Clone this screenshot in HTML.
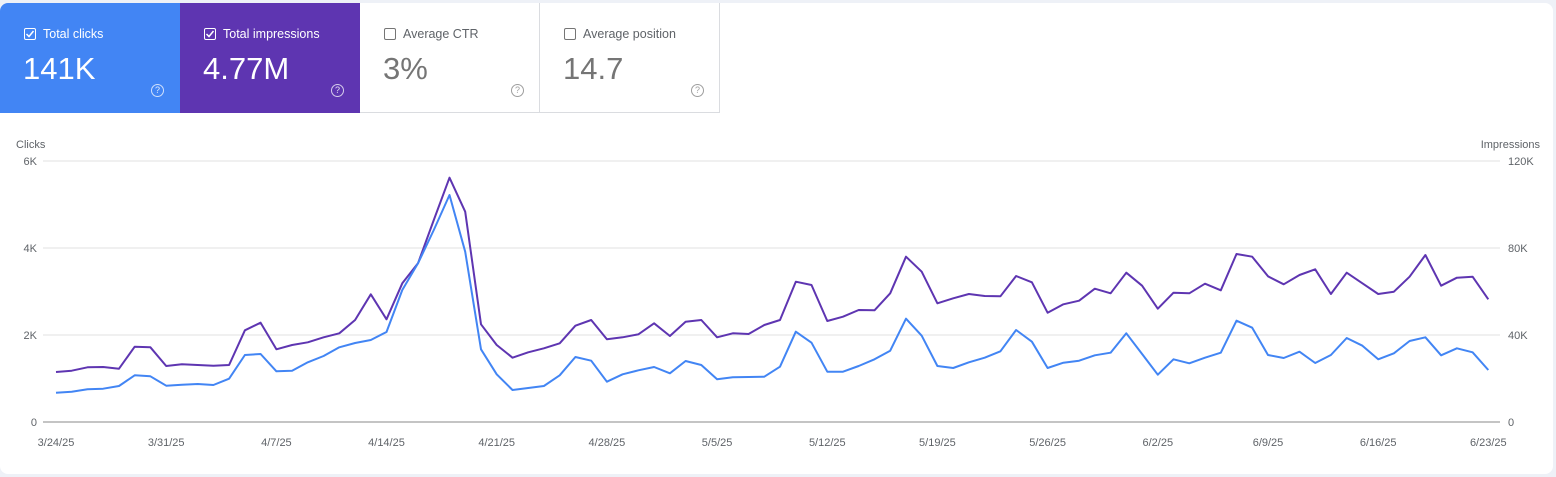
<!DOCTYPE html>
<html><head><meta charset="utf-8"><style>
body{margin:0;width:1556px;height:477px;background:#eef1f7;font-family:"Liberation Sans",sans-serif;overflow:hidden;position:relative}
.card{position:absolute;left:0;top:3px;width:1553px;height:471px;background:#fff;border-radius:8px;overflow:hidden}
.m{position:absolute;top:0;width:180px;height:110px;box-sizing:border-box}
.cb{position:absolute;left:24px;top:25px;width:10px;height:10px;border:1.5px solid #fff;border-radius:2px}
.lab{position:absolute;left:43px;top:24px;font-size:12.5px;color:#fff}
.big{position:absolute;left:23px;top:48px;font-size:31px;color:#fff}
.q{position:absolute;left:151px;top:81px;width:11px;height:11px;border:1.3px solid rgba(255,255,255,.75);border-radius:50%;font-size:9px;line-height:11px;text-align:center;color:rgba(255,255,255,.85)}
.w .cb{border-color:#757575}.w .lab{color:#5f6368}.w .big{color:#757575}.w .q{border-color:#9e9e9e;color:#9e9e9e}
svg text{font-family:"Liberation Sans",sans-serif;font-size:11px;fill:#5f6368}
</style></head><body>
<div class="card">
<div class="m" style="left:0;background:#4285f4"><div class="cb"><svg width="10" height="10" style="position:absolute;left:0;top:0"><path d="M1.5 5 L4 7.5 L8.5 2" stroke="#fff" stroke-width="1.5" fill="none"/></svg></div><div class="lab">Total clicks</div><div class="big">141K</div><div class="q">?</div></div>
<div class="m" style="left:180px;background:#5e35b1"><div class="cb"><svg width="10" height="10" style="position:absolute;left:0;top:0"><path d="M1.5 5 L4 7.5 L8.5 2" stroke="#fff" stroke-width="1.5" fill="none"/></svg></div><div class="lab">Total impressions</div><div class="big">4.77M</div><div class="q">?</div></div>
<div class="m w" style="left:360px;border-right:1px solid #dadce0;border-bottom:1px solid #dadce0"><div class="cb"></div><div class="lab">Average CTR</div><div class="big">3%</div><div class="q">?</div></div>
<div class="m w" style="left:540px;border-right:1px solid #dadce0;border-bottom:1px solid #dadce0"><div class="cb"></div><div class="lab">Average position</div><div class="big">14.7</div><div class="q">?</div></div>
</div>
<svg id="c" width="1556" height="477" style="position:absolute;left:0;top:0">
<text x="16" y="148">Clicks</text>
<text x="1540" y="148" text-anchor="end">Impressions</text>
<g stroke="#ececec" stroke-width="1.5"><line x1="43" y1="161" x2="1500" y2="161"/><line x1="43" y1="248" x2="1500" y2="248"/><line x1="43" y1="335" x2="1500" y2="335"/></g>
<line x1="43" y1="422" x2="1500" y2="422" stroke="#b0b0b0" stroke-width="1.5"/>
<g text-anchor="end"><text x="37" y="165">6K</text><text x="37" y="252">4K</text><text x="37" y="339">2K</text><text x="37" y="426">0</text></g>
<text x="1508" y="165">120K</text><text x="1508" y="252">80K</text><text x="1508" y="339">40K</text><text x="1508" y="426">0</text>
<g id="xl" text-anchor="middle"></g>
<polyline id="pp" fill="none" stroke="#5e35b1" stroke-width="2" stroke-linejoin="round"/>
<polyline id="bp" fill="none" stroke="#4285f4" stroke-width="2" stroke-linejoin="round"/>
</svg>
<script>
var B=[728,725,718,716,708,676,679,707,704,702,705,686,615,612,664,662,637,618,592,579,570,546,420,340,240,135,305,598,673,720,714,708,676,621,632,695,673,661,651,670,633,645,688,682,681,680,650,545,578,665,665,648,628,602,506,557,648,654,637,623,604,540,575,654,638,632,616,608,550,612,674,628,640,623,608,512,533,615,624,605,639,615,564,587,628,610,573,562,616,595,607,660];
var P=[666,662,652,651,656,590,592,648,643,645,647,645,541,518,598,585,577,562,550,510,433,508,400,340,210,83,185,523,585,623,607,595,580,527,510,568,562,553,520,558,515,510,562,550,552,525,510,395,405,513,500,480,481,430,320,365,460,445,432,438,439,378,397,488,463,452,416,430,368,407,476,428,430,401,421,312,320,379,403,375,358,432,368,400,432,425,380,315,407,383,380,448];
function pts(a){return a.map(function(v,i){return (56+i*15.74).toFixed(1)+","+(150+v/3).toFixed(1)}).join(" ")}
document.getElementById("bp").setAttribute("points",pts(B));
document.getElementById("pp").setAttribute("points",pts(P));
var L=["3/24/25","3/31/25","4/7/25","4/14/25","4/21/25","4/28/25","5/5/25","5/12/25","5/19/25","5/26/25","6/2/25","6/9/25","6/16/25","6/23/25"],g=document.getElementById("xl"),s="";
L.forEach(function(t,i){s+='<text x="'+(56+i*7*15.74).toFixed(1)+'" y="446">'+t+'</text>'});g.innerHTML=s;
</script>
</body></html>
